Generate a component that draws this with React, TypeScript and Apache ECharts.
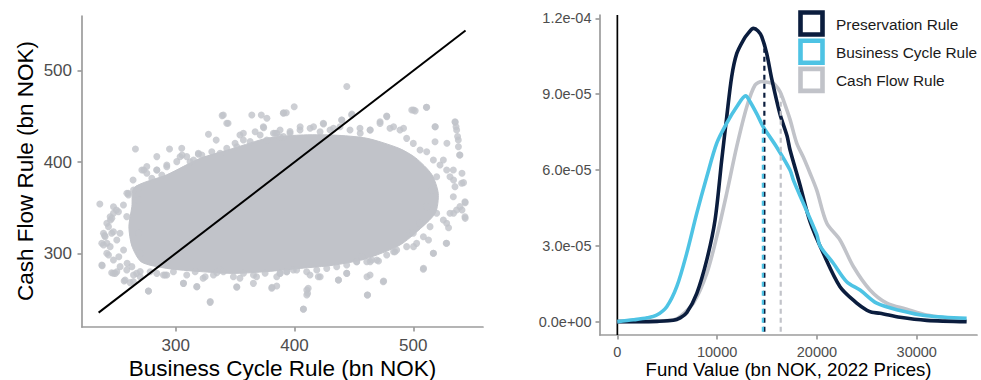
import React, { useEffect, useRef } from "react";
import * as echarts from "echarts";

// ---------- DATA ----------
// Left panel: scatter (Business Cycle Rule vs Cash Flow Rule, bn NOK)
const scatterTicks = [300, 400, 500];
// outline of the dense core of the point cloud (data units)
const cloudCore: number[][] = [
  [265, 372], [292.4, 386], [320.5, 404], [348.6, 415], [376.7, 426], [404.7, 429.5],
  [432.8, 429.5], [460.9, 426], [488, 415], [502, 404.5], [515.5, 386.5], [521, 365.7],
  [518.5, 344], [502, 322.5], [488, 308.5], [460, 294], [432.8, 287], [404.7, 283.5],
  [376.7, 280], [348.6, 278], [320.5, 280], [292.4, 283.5], [271, 290.5], [263, 308],
  [260.5, 329.2], [263, 351],
];
// individual points around the core
const cloudPoints: number[][] = [
  [236, 354], [238, 286.5], [240, 319.4], [242, 311], [245, 336.5], [247.5, 343.8],
  [250, 347.5], [249, 278], [256.5, 269.7], [259, 289], [260, 365.7], [264, 380.3],
  [266, 414.3], [268.6, 322], [273, 391.3], [275.6, 395], [277, 258.7], [270, 300],
  [253, 322], [246, 322], [252, 296.3], [256, 303.7], [263, 285.4], [267, 278],
  [284, 405.9], [294.7, 414.3], [305, 415], [305.3, 407.7], [319, 408.4], [327.5, 430.3],
  [334, 424], [339, 450.8], [344, 442.4], [351.4, 416.8], [354, 429.6], [364, 451.5],
  [372, 451.5], [374, 437.6], [376.7, 448], [385, 431.4], [390.7, 454], [393, 454],
  [399.7, 460.6], [404.7, 438.7], [416, 438.7], [424.4, 441.7], [432.8, 437], [439.8, 446],
  [444, 482.6], [448.3, 452.6], [455.3, 431.4], [463.7, 435], [472, 444], [477.7, 449.7],
  [483.4, 438.7], [491.8, 437], [500.2, 457], [501.6, 456], [511, 460], [518.5, 438.7],
  [528.3, 420.5], [535.3, 443.5], [536, 438.7], [537.3, 427.8], [538, 416.8], [539, 407.7],
  [533.9, 380.3], [541, 387.6], [542.3, 377.4], [543.7, 355.5], [543.7, 338.3], [541, 347.5],
  [533.9, 343.8], [529.7, 328], [527.7, 311], [517, 300], [512.8, 314.6], [508.6, 283.6],
  [500.2, 307.3], [497.4, 322], [483.4, 301.8], [475, 269.7], [470.7, 291.6], [463.7, 290.9],
  [461.5, 254.4], [461, 274.4], [456.7, 296.3], [444, 278], [437, 270.8], [421.6, 274.4],
  [413, 276.3], [411.5, 261.7], [411, 256.2], [407.5, 239], [385, 264.2], [381, 262.8],
  [368, 274.4], [354, 272.6], [351.4, 262.8], [334.5, 278.8], [329, 247.1], [323, 272.6],
  [317.7, 263.5], [306.5, 267.1], [292.4, 276.3], [284, 278], [270, 280], [261.5, 267.9],
  [246, 278.8],
  [284, 391.2], [292.4, 394.9], [303.6, 405.8], [312, 400.3], [319, 409.5], [340, 451.5],
  [342.9, 442.4], [356.9, 431.4], [373.7, 438.7], [366.8, 433.2], [390.6, 453.3], [382.2, 431.4],
  [258.8, 365.7], [247.5, 351], [244.7, 340.1], [241.9, 332.9], [239.1, 321.9], [237.7, 311],
  [241.9, 300], [237.7, 287.2], [247.5, 278.1], [257.3, 270.8], [264.3, 268.9], [276.9, 258.7],
  [291, 276.2], [306.4, 267.1], [317.7, 263.4], [328.9, 246.3], [337.3, 281.7], [351.3, 263.4],
  [365.3, 267.1], [380.8, 261.7], [387.8, 278.1],
  [424.2, 442.4], [439.7, 446], [448.1, 451.5], [477.6, 450.4], [498.7, 457], [511.3, 459.9],
  [518.3, 438.7], [535.1, 444.1], [536.5, 435], [537.9, 424.1], [539.3, 407.7], [518.3, 422.2],
  [525.3, 402.2], [533.7, 391.2], [540.7, 376.7], [543.5, 356.5], [543.5, 340.1], [536.5, 347.4],
  [528.1, 332.9], [528.1, 311], [516.8, 300], [508.4, 282.5], [500, 321.9], [484.6, 301.8],
  [474.7, 268.9], [461.3, 254.3], [463.6, 276.2], [452.4, 290.8], [436.9, 270.8], [443.9, 278.1],
  [420, 274.4], [410.3, 259.8], [410.3, 254.3], [407.4, 238.7], [399, 281.7], [465, 292.7],
  // ragged band along the edge of the core
  [271.4, 391.3], [275.6, 387.6], [279.8, 382.1], [284.0, 391.3], [288.2, 385.8], [268.6, 371.2],
  [264.4, 369.4], [260.1, 363.9], [268.6, 358.4], [255.9, 352.9], [251.7, 345.6], [246.1, 338.3],
  [258.7, 340.2], [243.3, 329.2], [247.5, 323.7], [240.5, 318.3], [250.3, 314.6], [239.1, 309.1],
  [244.7, 307.3], [243.3, 298.2], [247.5, 292.7], [253.1, 285.4], [258.7, 281.7], [250.3, 279.9],
  [264.4, 276.3], [270.0, 274.4], [278.4, 279.9], [289.6, 276.3], [298.0, 279.9], [309.2, 276.3],
  [316.3, 279.9], [324.7, 274.4], [331.7, 276.3], [340.1, 279.9], [348.5, 274.4], [357.0, 278.1],
  [365.4, 276.3], [375.2, 278.1], [385.0, 274.4], [393.4, 279.9],
  [292.4, 396.8], [300.8, 400.4], [309.2, 405.9], [314.9, 402.2], [321.9, 407.7], [330.3, 411.3],
  [337.3, 409.5], [342.9, 415.0], [349.9, 420.5], [356.9, 424.1], [362.6, 422.3], [371.0, 429.6],
  [376.6, 424.0], [383.6, 431.4], [390.6, 427.8], [387.8, 435.1], [396.2, 433.3],
  [387.8, 427.7], [396.2, 431.4], [404.6, 435.0], [413.1, 436.9], [421.5, 433.2], [429.9, 435.0],
  [438.3, 438.7], [446.7, 435.0], [455.1, 436.9], [463.6, 435.0], [472.0, 442.3], [480.4, 436.9],
  [488.8, 435.0], [494.4, 425.9], [500.0, 420.4], [505.7, 413.1], [511.3, 411.3], [516.9, 402.2],
  [522.5, 396.7], [528.1, 391.2], [530.9, 383.9], [535.1, 373.0], [533.7, 362.0], [539.3, 351.1],
  [530.9, 343.8], [525.3, 336.5], [519.7, 343.8], [514.1, 329.2], [508.5, 318.2], [502.8, 310.9],
  [494.4, 307.3], [486.0, 303.6], [477.6, 298.1], [469.2, 292.6], [460.8, 290.8], [452.3, 290.8],
  [443.9, 287.2], [435.5, 285.3], [427.1, 283.5], [418.7, 281.7], [410.2, 279.9], [401.8, 281.7],
  [393.4, 279.9], [387.8, 278.0], [511.3, 351.1], [505.7, 332.8], [515.5, 369.3], [519.7, 383.9],
];
const equalityLine: number[][] = [[235, 235], [544, 544]];

// Right panel: densities of fund value (bn NOK, 2022 prices)
const seriesNames = ["Preservation Rule", "Business Cycle Rule", "Cash Flow Rule"];
const preservation: number[][] = [
  [0, 0], [2000, 0], [4000, 1e-7], [5600, 5e-7], [6300, 1.5e-6], [6950, 3.5e-6],
  [7960, 1.12e-5], [8960, 2.44e-5], [9790, 4.02e-5], [10460, 6.4e-5], [10960, 8.1e-5],
  [11460, 9.7e-5], [11960, 1.06e-4], [12630, 1.114e-4], [13100, 1.14e-4], [13630, 1.16e-4],
  [14100, 1.15e-4], [14470, 1.127e-4], [14970, 1.06e-4], [15470, 9.6e-5], [16300, 8.2e-5],
  [17000, 7.35e-5], [17300, 6.8e-5], [18310, 5.4e-5], [19310, 3.95e-5], [20640, 2.7e-5],
  [22310, 1.38e-5], [23990, 7.3e-6], [25000, 4.5e-6], [25490, 3.7e-6], [26320, 3.3e-6],
  [28330, 1.7e-6], [31000, 5e-7], [35000, 0],
];
const businessCycle: number[][] = [
  [0, 0], [1600, 7e-7], [3000, 1.5e-6], [3950, 2.6e-6], [4950, 5.9e-6], [5950, 1.38e-5],
  [6950, 2.7e-5], [7960, 4.29e-5], [8960, 5.73e-5], [9960, 7.06e-5], [10960, 7.85e-5],
  [11960, 8.5e-5], [12860, 8.93e-5], [13300, 8.7e-5], [14000, 8.2e-5], [14630, 7.7e-5],
  [15970, 6.9e-5], [17300, 6.0e-5], [17640, 5.6e-5], [18640, 4.68e-5], [19980, 3.45e-5],
  [20310, 3.0e-5], [21640, 2.31e-5], [22980, 1.58e-5], [24320, 1.25e-5], [25990, 7.3e-6],
  [28330, 4.4e-6], [31000, 2.3e-6], [35000, 1.3e-6],
];
const cashFlow: number[][] = [
  [0, 0], [4000, 2e-7], [5600, 6e-7], [6280, 2e-6], [7620, 7.3e-6], [8960, 1.91e-5],
  [9960, 3.36e-5], [10960, 5.08e-5], [11960, 6.92e-5], [12970, 8.5e-5], [13800, 9.36e-5],
  [14500, 9.5e-5], [15300, 9.45e-5], [15630, 9.43e-5], [16300, 9.1e-5], [16630, 8.77e-5],
  [17300, 8.0e-5], [17970, 7.06e-5], [18640, 6.5e-5], [19310, 5.87e-5], [19980, 5.2e-5],
  [20980, 3.9e-5], [22310, 3.23e-5], [23650, 2.18e-5], [25320, 1.25e-5], [26990, 7.3e-6],
  [28990, 4.9e-6], [31000, 2.6e-6], [35000, 4e-7],
];
// medians: [x, density at median]
const medians: number[][] = [[14730, 1.08e-4], [14580, 7.75e-5], [16370, 9.0e-5]];
const densityXTicks = [0, 10000, 20000, 30000];
const densityYTicks = [0, 3e-5, 6e-5, 9e-5, 1.2e-4];
const densityYTickLabels = ["0.0e+00", "3.0e-05", "6.0e-05", "9.0e-05", "1.2e-04"];

// ---------- STYLE ----------
const FONT = "Liberation Sans, Arial, Helvetica, sans-serif";
const NAVY = "#0b1d3e";
const BLUE = "#4ec3e4";
const GREY = "#c1c3c9";
const AXIS = "#9c9c9c";
const TICKTXT = "#4d4d4d";
const colors = [NAVY, BLUE, GREY];

const LX = [221, 558.7];
const LY = [219.3, 559.9];
const RX = [-1740, 36040];
const RY = [-5.3e-6, 1.213e-4];

function axisCommon(fontSize: number, margin: number, ticks: number[], fmt?: (v: number) => string) {
  return {
    axisLine: { show: true, onZero: false, lineStyle: { color: AXIS, width: 1.7 } },
    axisTick: { show: true, length: 4.5, customValues: ticks, lineStyle: { color: AXIS, width: 1.7 } },
    axisLabel: {
      show: true, customValues: ticks, color: TICKTXT, fontSize, fontFamily: FONT, margin,
      formatter: fmt ? fmt : (v: number) => String(v),
    },
    splitLine: { show: false },
  };
}

export default function App() {
  const ref = useRef<HTMLDivElement>(null);
  useEffect(() => {
    if (!ref.current) return;
    const chart = echarts.init(ref.current, undefined, { renderer: "svg" });

    const yFmt = (v: number) => {
      const i = densityYTicks.findIndex((t) => Math.abs(t - v) < 1e-9);
      return i >= 0 ? densityYTickLabels[i] : "";
    };

    const densitySeries = [
      { data: cashFlow, c: 2 },
      { data: preservation, c: 0 },
      { data: businessCycle, c: 1 },
    ].map((s) => ({
      type: "line",
      name: seriesNames[s.c],
      xAxisIndex: 1,
      yAxisIndex: 1,
      data: s.data,
      smooth: 0.3,
      showSymbol: false,
      symbol: "none",
      lineStyle: { color: colors[s.c], width: 3.6 },
      silent: true,
      z: 3,
    }));

    const medianSeries = medians.map((m, i) => ({
      type: "line",
      xAxisIndex: 1,
      yAxisIndex: 1,
      data: [[m[0], -4e-6], [m[0], m[1]]],
      showSymbol: false,
      symbol: "none",
      lineStyle: { color: colors[i], width: 2.2, type: [5, 4] },
      silent: true,
      z: 4,
    }));

    const legendItems: any[] = [];
    seriesNames.forEach((n, i) => {
      const cy = 23.5 + i * 28.2;
      legendItems.push({
        type: "rect",
        shape: { x: 800.5, y: cy - 11, width: 22, height: 22 },
        style: { fill: "#ffffff", stroke: colors[i], lineWidth: 4.6 },
      });
      legendItems.push({
        type: "text",
        x: 836,
        y: cy + 0.5,
        style: { text: n, fontSize: 15.4, fontFamily: FONT, fill: "#1a1a1a", textAlign: "left", textVerticalAlign: "middle" },
      });
    });

    chart.setOption({
      animation: false,
      backgroundColor: "#ffffff",
      grid: [
        { left: 82, top: 16, width: 401, height: 311 },
        { left: 600, top: 15, width: 377, height: 320 },
      ],
      xAxis: [
        { type: "value", gridIndex: 0, min: LX[0], max: LX[1], ...axisCommon(17, 10, scatterTicks) },
        { type: "value", gridIndex: 1, min: RX[0], max: RX[1], ...axisCommon(14.5, 9, densityXTicks) },
      ],
      yAxis: [
        { type: "value", gridIndex: 0, min: LY[0], max: LY[1], ...axisCommon(17, 10, scatterTicks) },
        { type: "value", gridIndex: 1, min: RY[0], max: RY[1], ...axisCommon(14.5, 8.5, densityYTicks, yFmt) },
      ],
      series: [
        {
          type: "custom",
          xAxisIndex: 0,
          yAxisIndex: 0,
          data: cloudCore,
          encode: { x: 0, y: 1 },
          silent: true,
          z: 1,
          renderItem: (params: any, api: any) => {
            if (params.dataIndex !== 0) return null;
            const pts = cloudCore.map((p) => api.coord(p));
            return {
              type: "polygon",
              shape: { points: pts, smooth: 0.25 },
              style: { fill: GREY, stroke: GREY, lineWidth: 1, lineJoin: "round" },
            };
          },
        },
        {
          type: "scatter",
          xAxisIndex: 0,
          yAxisIndex: 0,
          data: cloudPoints,
          symbol: "circle",
          symbolSize: 7,
          itemStyle: { color: GREY },
          silent: true,
          z: 2,
        },
        {
          type: "line",
          xAxisIndex: 0,
          yAxisIndex: 0,
          data: equalityLine,
          showSymbol: false,
          symbol: "none",
          lineStyle: { color: "#000000", width: 2 },
          silent: true,
          z: 3,
        },
        {
          type: "line",
          xAxisIndex: 1,
          yAxisIndex: 1,
          data: [[0, RY[0]], [0, RY[1]]],
          showSymbol: false,
          symbol: "none",
          lineStyle: { color: "#000000", width: 1.7 },
          silent: true,
          z: 2,
        },
        ...densitySeries,
        ...medianSeries,
      ],
      graphic: [
        {
          type: "text",
          x: 282.5,
          y: 368,
          style: { text: "Business Cycle Rule (bn NOK)", fontSize: 22.5, fontFamily: FONT, fill: "#000", textAlign: "center", textVerticalAlign: "middle" },
        },
        {
          type: "text",
          x: 25,
          y: 171,
          rotation: Math.PI / 2,
          style: { text: "Cash Flow Rule (bn NOK)", fontSize: 22.5, fontFamily: FONT, fill: "#000", textAlign: "center", textVerticalAlign: "middle" },
        },
        {
          type: "text",
          x: 788.5,
          y: 369,
          style: { text: "Fund Value (bn NOK, 2022 Prices)", fontSize: 18.6, fontFamily: FONT, fill: "#000", textAlign: "center", textVerticalAlign: "middle" },
        },
        ...legendItems,
      ],
    });
    return () => chart.dispose();
  }, []);
  return <div ref={ref} style={{ position: "fixed", left: 0, top: 0, width: 981, height: 380 }} />;
}
